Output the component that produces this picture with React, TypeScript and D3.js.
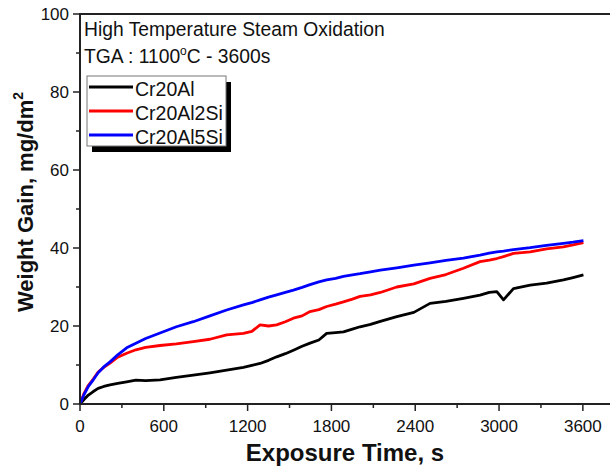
import React from "react";
import * as d3 from "d3";

const times = [0,30,60,95,130,170,215,270,334,400,470,573,690,811,930,1050,1170,1230,1289,1350,1408,1470,1528,1590,1647,1710,1766,1830,1886,1950,2005,2080,2150,2268,2390,2506,2620,2745,2864,2930,2984,3032,3103,3223,3340,3461,3530,3604];
const cr20Al = [0,1.2,2.3,3.2,4.0,4.5,4.9,5.3,5.7,6.1,6.0,6.2,6.8,7.4,8.0,8.7,9.4,9.9,10.4,11.2,12.1,12.9,13.8,14.8,15.6,16.4,18.1,18.3,18.5,19.2,19.8,20.4,21.2,22.4,23.5,25.8,26.3,27.1,27.9,28.6,28.8,26.7,29.6,30.5,31.0,31.8,32.4,33.1];
const cr20Al2Si = [0,2.8,4.8,6.4,8.2,9.4,10.5,12.0,13.0,13.9,14.5,15.0,15.4,16.0,16.6,17.7,18.1,18.6,20.3,20.0,20.3,21.1,22.0,22.6,23.7,24.2,25.0,25.6,26.2,26.9,27.6,28.0,28.6,30.0,30.8,32.2,33.2,34.8,36.5,36.9,37.3,37.8,38.6,39.0,39.8,40.3,40.8,41.4];
const cr20Al5Si = [0,2.5,4.5,6.2,8.0,9.5,10.8,12.6,14.4,15.6,16.8,18.2,19.8,21.1,22.6,24.1,25.4,26.0,26.7,27.4,28.0,28.6,29.2,29.9,30.6,31.3,31.8,32.2,32.7,33.1,33.4,33.9,34.3,34.9,35.6,36.2,36.8,37.4,38.2,38.7,39.0,39.2,39.6,40.1,40.7,41.2,41.5,41.9];
const seriesNames = ["Cr20Al", "Cr20Al2Si", "Cr20Al5Si"];
const seriesColors = ["#000000", "#ff0000", "#0000ff"];
const xTicks = [0, 600, 1200, 1800, 2400, 3000, 3600];
const xMinor = [300, 900, 1500, 2100, 2700, 3300];
const yTicks = [0, 20, 40, 60, 80, 100];
const yMinor = [10, 30, 50, 70, 90];

const W = 610, H = 471;
const FONT = "'Liberation Sans', Arial, sans-serif";

export default function App() {
  const x = d3.scaleLinear().domain([0, 3780]).range([80, 608]);
  const y = d3.scaleLinear().domain([0, 100]).range([404, 14]);
  const all = [cr20Al, cr20Al2Si, cr20Al5Si];
  const line = d3.line<number>().x((_, i) => x(times[i])).y((d) => y(d));
  const legX = 87, legY = 76;
  return (
    <svg width={W} height={H} style={{ position: "absolute", left: 0, top: 0, background: "#fff" }} fontFamily={FONT}>
      <rect x={0} y={0} width={W} height={H} fill="#fff" />
      {all.map((s, i) => (
        <path key={i} d={line(s) || ""} fill="none" stroke={seriesColors[i]} strokeWidth={2.8} strokeLinejoin="round" />
      ))}
      {/* axes */}
      <line x1={80} x2={80} y1={13} y2={405} stroke="#222" strokeWidth={2} />
      <line x1={79} x2={610} y1={404} y2={404} stroke="#222" strokeWidth={2} />
      <line x1={79} x2={610} y1={14} y2={14} stroke="#222" strokeWidth={2} />
      {xTicks.map((t) => (
        <g key={t}>
          <line x1={x(t)} x2={x(t)} y1={404} y2={411} stroke="#222" strokeWidth={1.5} />
          <text x={x(t)} y={432} textAnchor="middle" fontSize={17} fill="#111">{t}</text>
        </g>
      ))}
      {xMinor.map((t) => (
        <line key={t} x1={x(t)} x2={x(t)} y1={404} y2={408} stroke="#222" strokeWidth={1.5} />
      ))}
      {yTicks.map((t) => (
        <g key={t}>
          <line x1={73} x2={80} y1={y(t)} y2={y(t)} stroke="#222" strokeWidth={1.5} />
          <text x={69} y={y(t) + 6} textAnchor="end" fontSize={17} fill="#111">{t}</text>
        </g>
      ))}
      {yMinor.map((t) => (
        <line key={t} x1={76} x2={80} y1={y(t)} y2={y(t)} stroke="#222" strokeWidth={1.5} />
      ))}
      {/* annotations */}
      <text x={84} y={36} fontSize={19.3} fill="#111">High Temperature Steam Oxidation</text>
      <text x={84} y={63} fontSize={19.3} fill="#111">
        TGA : 1100<tspan dy={-8} fontSize={12}>o</tspan><tspan dy={8}>C - 3600s</tspan>
      </text>
      {/* legend */}
      <rect x={legX + 5} y={legY + 6} width={139} height={70} fill="#000" />
      <rect x={legX} y={legY} width={139} height={70} fill="#fff" stroke="#777" strokeWidth={1} />
      {seriesNames.map((n, i) => (
        <g key={n}>
          <line x1={legX + 2} x2={legX + 46} y1={legY + 11 + i * 24} y2={legY + 11 + i * 24} stroke={seriesColors[i]} strokeWidth={2.8} />
          <text x={legX + 48} y={legY + 20 + i * 24} fontSize={19.5} fill="#111">{n}</text>
        </g>
      ))}
      {/* axis titles */}
      <text x={345} y={461} textAnchor="middle" fontSize={24} fontWeight="bold" fill="#111">Exposure Time, s</text>
      <text transform="translate(33,202) rotate(-90)" textAnchor="middle" fontSize={22} fontWeight="bold" fill="#111">
        Weight Gain, mg/dm<tspan dy={-10} fontSize={14}>2</tspan>
      </text>
    </svg>
  );
}
